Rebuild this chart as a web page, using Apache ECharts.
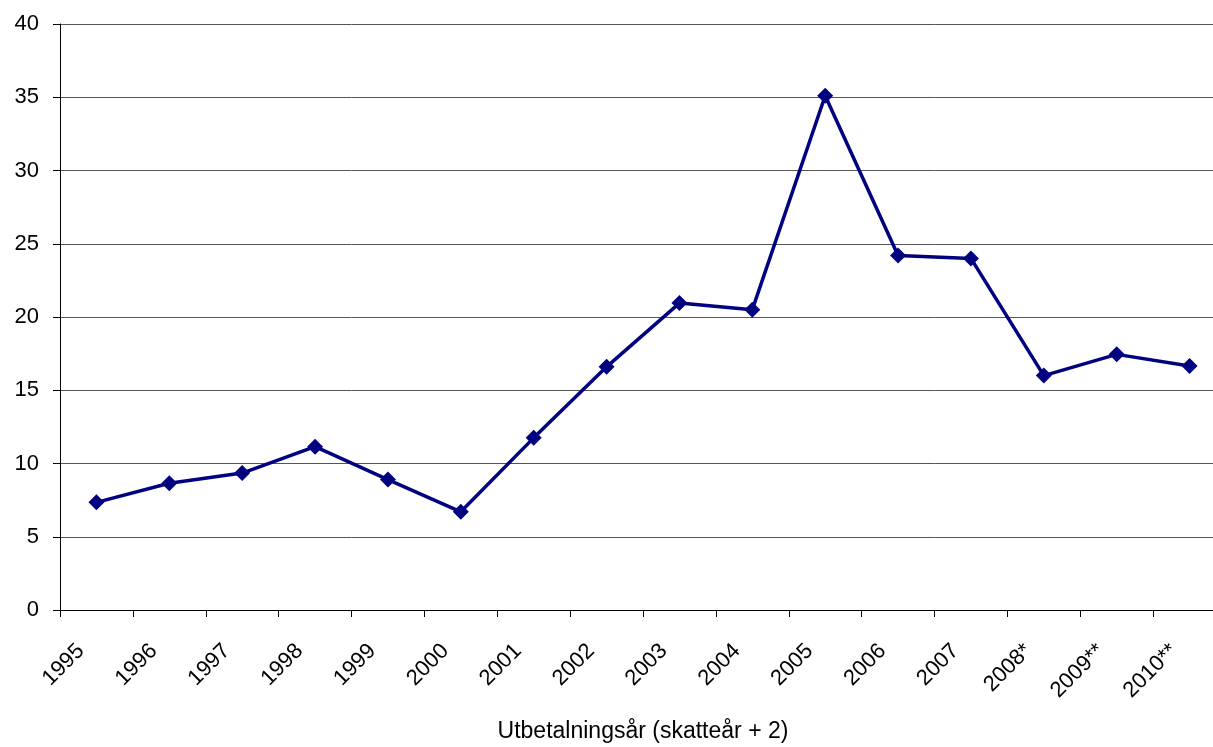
<!DOCTYPE html>
<html>
<head>
<meta charset="utf-8">
<script src="https://cdn.jsdelivr.net/npm/echarts@6/dist/echarts.min.js"></script>
<style>
  html, body { margin: 0; padding: 0; background: #fff; overflow: hidden; }
  #chart { width: 1226px; height: 747px; }
</style>
</head>
<body>
<div id="chart"></div>
<script>
var years = ['1995', '1996', '1997', '1998', '1999', '2000', '2001', '2002',
    '2003', '2004', '2005', '2006', '2007', '2008*', '2009**', '2010**'];
var values = [7.35, 8.65, 9.35, 11.15, 8.9, 6.7, 11.75, 16.6,
    20.95, 20.5, 35.1, 24.2, 24.0, 16.0, 17.45, 16.65];
var xTitle = 'Utbetalningsår (skatteår + 2)';

// the plot runs past the right edge of the window, as in the original
var chart = echarts.init(document.getElementById('chart'));
chart.setOption({
    animation: false,
    textStyle: {fontFamily: 'Liberation Sans, Arial, sans-serif'},
    grid: {
        left: 60,
        top: 24,
        bottom: 137,
        right: 0,
        containLabel: false,
        outerBoundsMode: 'none'
    },
    xAxis: {
        type: 'category',
        data: years,
        boundaryGap: true,
        name: xTitle,
        nameLocation: 'middle',
        nameGap: 110,
        nameTextStyle: {color: '#000', fontSize: 23},
        axisLine: {lineStyle: {color: '#000', width: 1}},
        axisTick: {show: true, length: 7, lineStyle: {color: '#000'}},
        axisLabel: {
            rotate: 45,
            margin: 22,
            padding: [0, 22, 0, 0],
            color: '#000',
            fontSize: 22,
            interval: 0
        },
        splitLine: {show: false}
    },
    yAxis: {
        type: 'value',
        min: 0,
        max: 40,
        interval: 5,
        axisLine: {show: true, lineStyle: {color: '#000', width: 1}},
        axisTick: {show: true, length: 7, lineStyle: {color: '#000'}},
        axisLabel: {color: '#000', fontSize: 22, margin: 21},
        splitLine: {show: true, lineStyle: {color: '#555', width: 1}}
    },
    series: [
        {
            type: 'line',
            data: values,
            symbol: 'diamond',
            symbolSize: 16,
            lineStyle: {color: '#000080', width: 3.5},
            itemStyle: {color: '#000080'}
        }
    ]
});
</script>
</body>
</html>
